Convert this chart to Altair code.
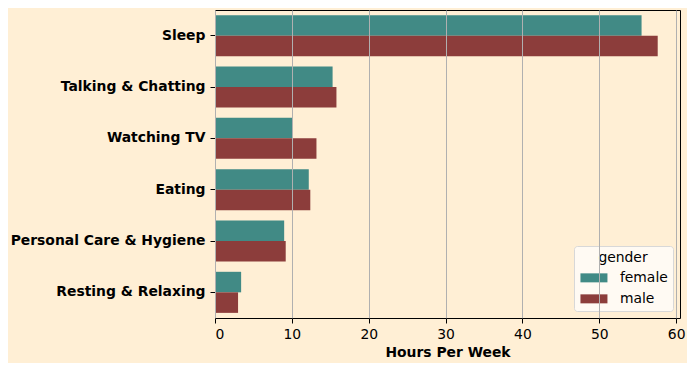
import altair as alt
import pandas as pd

categories = ["Sleep", "Talking & Chatting", "Watching TV", "Eating",
              "Personal Care & Hygiene", "Resting & Relaxing"]
female = [55.5, 15.3, 10.1, 12.2, 9.0, 3.4]
male = [57.6, 15.8, 13.2, 12.4, 9.2, 3.0]
genders = ["female", "male"]
colors = ["#418A85", "#8C3D3B"]

rows = []
for c, f, m in zip(categories, female, male):
    rows.append({"activity": c, "gender": "female", "hours": f})
    rows.append({"activity": c, "gender": "male", "hours": m})
df = pd.DataFrame(rows)

font = "DejaVu Sans"
fs = 13.9

chart = alt.Chart(df).mark_bar().encode(
    y=alt.Y("activity:N", sort=categories,
            scale=alt.Scale(paddingInner=0.2, paddingOuter=0.1),
            axis=alt.Axis(title=None, labelFontWeight="bold", labelFontSize=fs,
                          labelColor="black", tickColor="black", tickSize=5,
                          tickWidth=1, labelPadding=5, domain=False, grid=False,
                          labelFont=font, labelLimit=400)),
    yOffset=alt.YOffset("gender:N", sort=genders),
    x=alt.X("hours:Q", scale=alt.Scale(domain=[0, 60.5], nice=False, zero=True),
            axis=alt.Axis(title="Hours Per Week", titleFontWeight="bold",
                          titleFontSize=fs, titleColor="black", titleFont=font,
                          labelFontSize=fs, labelColor="black", labelFont=font,
                          values=[0, 10, 20, 30, 40, 50, 60], format="d",
                          tickColor="black", tickSize=5, tickWidth=1,
                          labelPadding=4, titlePadding=5, domain=False,
                          grid=True, gridColor="#b0b0b0", gridWidth=1,
                          zindex=1)),
    color=alt.Color("gender:N", sort=genders,
                    scale=alt.Scale(domain=genders, range=colors),
                    legend=alt.Legend(
                        title="gender", orient="bottom-right", offset=7,
                        fillColor="#FFFAF3", strokeColor="#d8d8d8",
                        cornerRadius=3, padding=5,
                        titleFontSize=fs, titleFontWeight="normal",
                        titleColor="black", titleFont=font,
                        titleAnchor="middle", titleAlign="center",
                        labelFontSize=fs, labelColor="black", labelFont=font,
                        symbolType="M-3,-1L3,-1L3,1L-3,1Z",
                        symbolSize=81, symbolStrokeWidth=0, symbolOpacity=1,
                        symbolOffset=8, labelOffset=19,
                        rowPadding=6, titlePadding=6)),
).properties(
    width=465, height=308,
    padding={"left": 207, "top": 2, "right": 7, "bottom": 45},
    autosize=alt.AutoSizeParams(type="none"),
).configure(
    background="#FFEFD5",
).configure_view(
    stroke="black", strokeWidth=1, fill="#FFEFD5",
)

chart.save("out.html", embed_options={"renderer": "svg", "actions": False})
